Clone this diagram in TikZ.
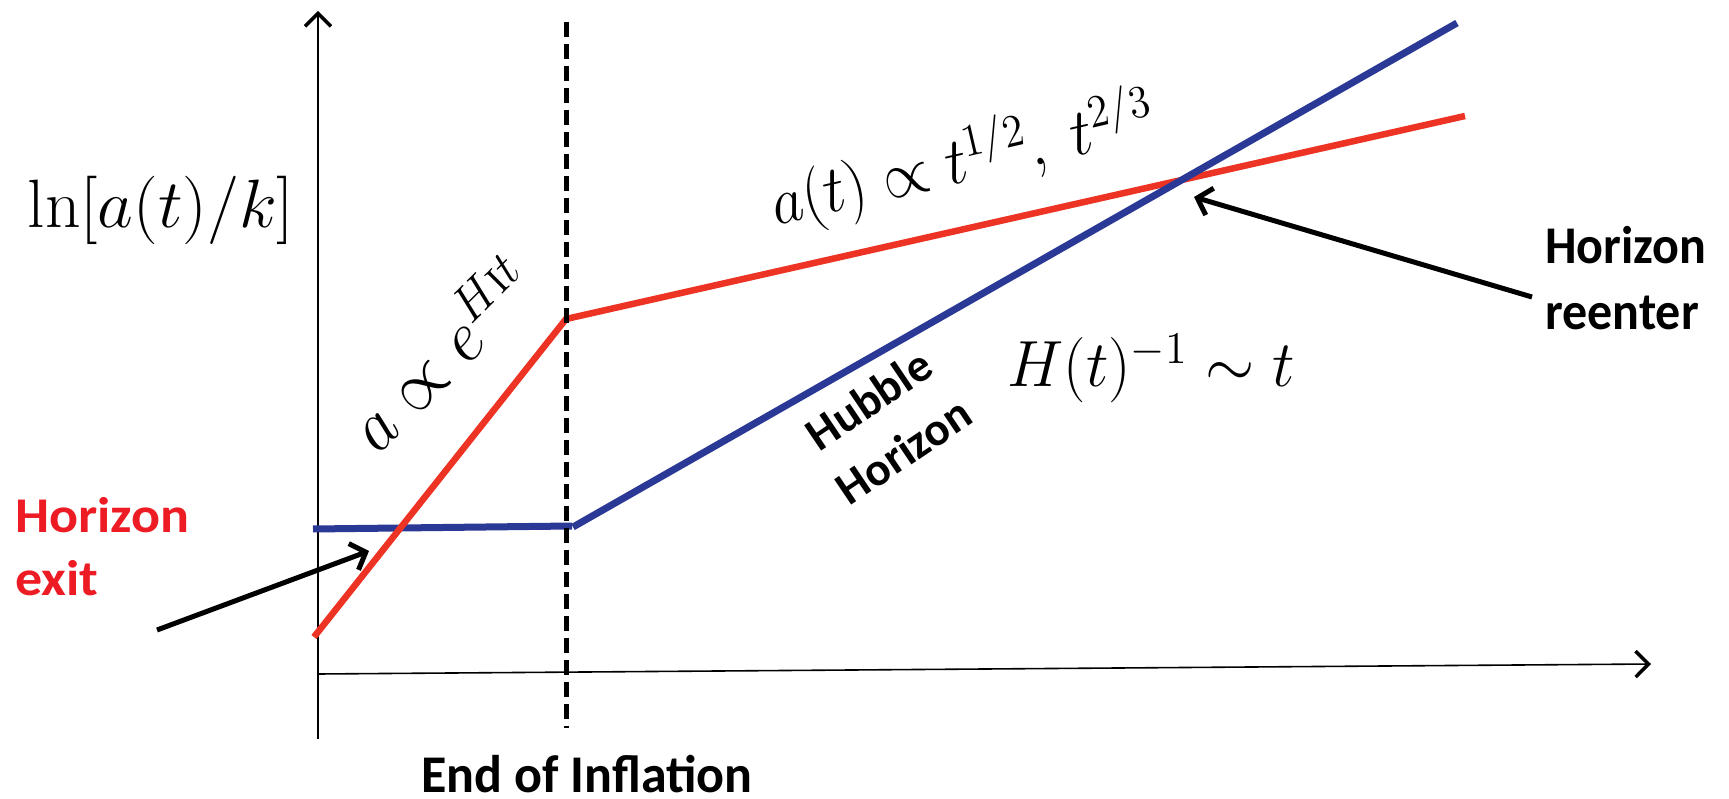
\documentclass[tikz,border=0pt]{standalone}
\usepackage{amsmath}
\usepackage{fontspec}
\newfontfamily\carlito{Carlito}
\usetikzlibrary{arrows.meta}
\definecolor{cred}{RGB}{237,51,36}
\definecolor{cblue}{RGB}{43,57,150}
\definecolor{tred}{RGB}{237,28,36}
\tikzset{
  axis/.style={line width=1.6pt, -{Straight Barb[length=13pt,width=26pt,line width=3.5pt]}},
  curve/.style={line width=7pt},
  pointer/.style={line width=5pt, -{Straight Barb[length=13pt,width=28pt,line width=5pt]}},
  boldlbl/.style={font=\carlito\bfseries\fontsize{50}{63}\selectfont, inner sep=0pt},
  mathlbl/.style={inner sep=0pt, font=\fontsize{20.74}{25}\selectfont},
}
\begin{document}
\begin{tikzpicture}[x=1pt,y=-1pt]
\useasboundingbox (0,0) rectangle (1729,799);
% axes
\coordinate (yb) at (318,739); \coordinate (yt) at (318,11);
\coordinate (xl) at (318,674); \coordinate (xr) at (1651,664);
\draw[axis] (yb) -- (yt);
\draw[axis] (xl) -- (xr);
% curves
\coordinate (b0) at (313,529); \coordinate (b1) at (572,526);
\coordinate (b2) at (573,527); \coordinate (b3) at (1457,23);
\coordinate (r0) at (314,637); \coordinate (r1) at (566,319); \coordinate (r2) at (1465,116);
\draw[curve,cblue,line cap=butt] (b0) -- (b1);
\draw[curve,cred,line width=6.5pt] (r0) -- (r1) -- (r2);
\draw[curve,cblue] (b2) -- (b3);
% end of inflation
\coordinate (dt) at (566,22); \coordinate (db) at (566,728);
\draw[line width=5pt, dash pattern=on 15pt off 7pt] (dt) -- (db);
% labels
\node[mathlbl, anchor=base west, xscale=3.35, yscale=3.3] (ylab) at (27,228) {$\ln[a(t)/k]$};
\node[mathlbl, anchor=base west, rotate=45, xscale=3.3, yscale=3.5] (infl) at (378,456) {$a\propto e^{H\textsc{i}t}$};
\node[mathlbl, anchor=base west, rotate=13, xscale=2.95, yscale=3.2] (rad) at (776,226) {$a(t)\propto t^{1/2},\; t^{2/3}$};
\node[mathlbl, anchor=base west, xscale=3.05, yscale=3.15] (hub) at (1007,387) {$H(t)^{-1}\sim t$};
\node[boldlbl, text=tred, align=left, anchor=base west, xscale=1.08] (hexit) at (15,595) {Horizon\\exit};
\node[boldlbl, align=left, anchor=base west, yscale=1.06] (hre) at (1545,330) {Horizon\\reenter};
\node[boldlbl, anchor=base, xscale=1.04, yscale=1.06] (eoi) at (587,792) {End of Inflation};
\node[boldlbl, font=\carlito\bfseries\fontsize{47}{62}\selectfont, align=center, rotate=34] (hh) at (886,425) {Hubble\\Horizon};
% pointers
\coordinate (ex0) at (157,630); \coordinate (ex1) at (369,551);
\coordinate (re0) at (1532,297); \coordinate (re1) at (1194,197);
\draw[pointer] (ex0) -- (ex1);
\draw[pointer] (re0) -- (re1);
\end{tikzpicture}
\end{document}
